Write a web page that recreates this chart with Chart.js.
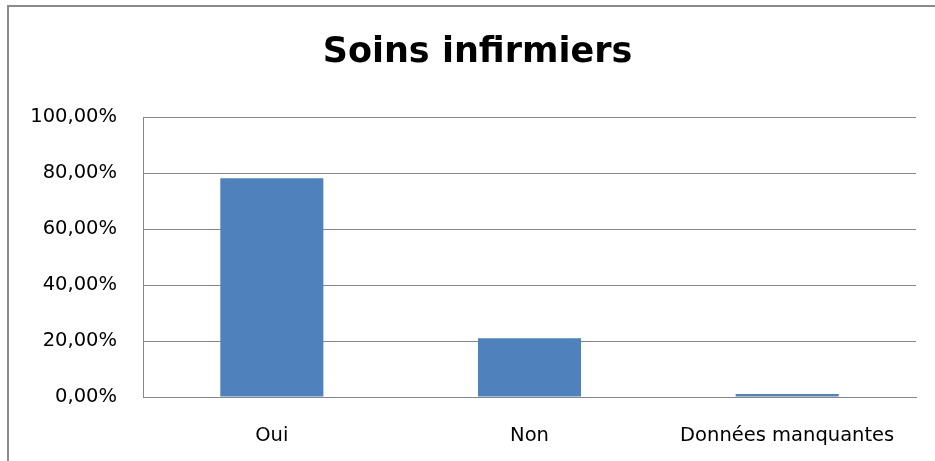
<!DOCTYPE html>
<html>
<head>
<meta charset="utf-8">
<script src="https://cdn.jsdelivr.net/npm/chart.js@4"></script>
<style>
  body { margin: 0; background: #fff; width: 935px; height: 461px; overflow: hidden; position: relative; }
  .frame { position: absolute; left: 7px; top: 5px; width: 960px; height: 480px; border: 2px solid #8c8c8c; box-sizing: border-box; }
  canvas { position: absolute; left: 0; top: 0; }
</style>
</head>
<body>
<div class="frame"></div>
<canvas id="soinsChart" width="935" height="461"></canvas>
<script>
const categories = ["Oui", "Non", "Données manquantes"];
const percentages = [78.1, 21.0, 1.1];
const yTicks = [0, 20, 40, 60, 80, 100];
const chartTitle = 'Soins infirmiers';

const fontFamily = "'DejaVu Sans', sans-serif";

function formatPercent(value) {
    return value.toFixed(2).replace('.', ',') + '%';
}

// title centred on the frame, not on the canvas
const titlePlugin = {
    id: 'frameTitle',
    afterDraw(chart) {
        const ctx = chart.ctx;
        ctx.save();
        ctx.font = "bold 35px " + fontFamily;
        ctx.fillStyle = '#000';
        ctx.textAlign = 'center';
        ctx.textBaseline = 'middle';
        ctx.fillText(chartTitle, chart.width / 2 + 10, 53);
        ctx.restore();
    }
};

new Chart('soinsChart', {
    type: 'bar',
    data: {
        labels: categories,
        datasets: [
            {
                data: percentages,
                backgroundColor: '#4F81BD',
                borderWidth: 0,
                categoryPercentage: 0.4,
                barPercentage: 1.0
            }
        ]
    },
    options: {
        responsive: false,
        animation: false,
        layout: {
            padding: { left: 0, right: 19, top: 117, bottom: 0 }
        },
        plugins: {
            legend: { display: false },
            tooltip: { enabled: false },
            title: { display: false }
        },
        scales: {
            x: {
                grid: { display: false, drawTicks: false },
                border: { display: true, color: '#868686', width: 1 },
                afterFit: scale => {
                    scale.height = 64;
                },
                ticks: {
                    color: '#000',
                    padding: 27,
                    maxRotation: 0,
                    font: { family: fontFamily, size: 19.5 }
                }
            },
            y: {
                min: 0,
                max: 100,
                afterBuildTicks: scale => {
                    scale.ticks = yTicks.map(v => ({ value: v }));
                },
                afterFit: scale => {
                    scale.width = 143;
                },
                grid: { color: '#868686', lineWidth: 1, drawTicks: false },
                border: { display: true, color: '#868686', width: 1 },
                ticks: {
                    color: '#000',
                    padding: 26,
                    font: { family: fontFamily, size: 19.5 },
                    callback: value => formatPercent(value)
                }
            }
        }
    },
    plugins: [titlePlugin]
});
</script>
</body>
</html>
